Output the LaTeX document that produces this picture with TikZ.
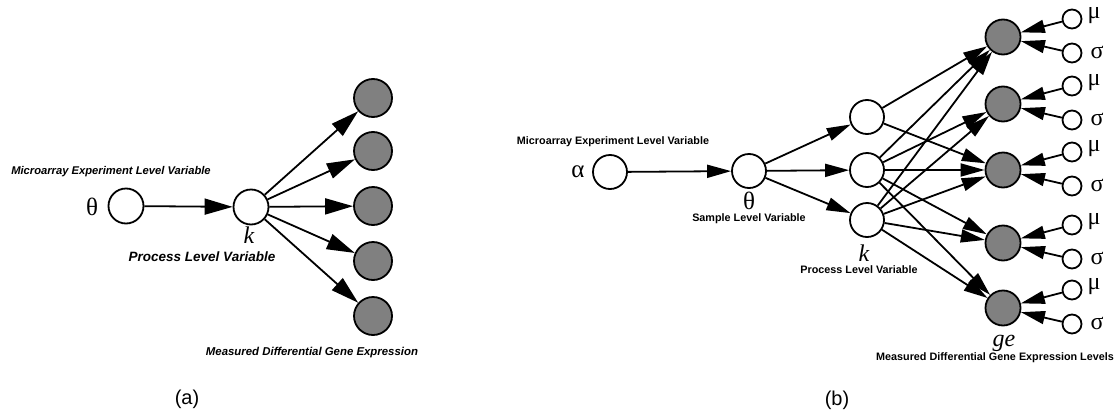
\documentclass[tikz,border=0pt]{standalone}
\usepackage{fontspec}
\setmainfont{Liberation Sans}
\newfontfamily\grk{Liberation Serif}
\usetikzlibrary{arrows.meta}
\definecolor{gcol}{RGB}{128,128,128}
\begin{document}
\begin{tikzpicture}[x=1pt,y=-1pt,
  every node/.style={inner sep=0pt},
  wca/.style={circle,draw,line width=1.8pt,fill=white,minimum size=35pt},
  wcb/.style={circle,draw,line width=1.8pt,fill=white,minimum size=34pt},
  gca/.style={circle,draw,line width=1.8pt,fill=gcol,minimum size=38pt},
  gcb/.style={circle,draw,line width=1.8pt,fill=gcol,minimum size=35pt},
  sc/.style={circle,draw,line width=1.8pt,fill=white,minimum size=19pt},
  arra/.style={line width=1.8pt,-{Triangle[length=28pt,width=16pt]}},
  arrb/.style={line width=1.8pt,-{Triangle[length=24pt,width=13pt]}},
  lbl/.style={font=\bfseries\fontsize{10.8}{11}\selectfont},
  ilbl/.style={font=\bfseries\itshape\fontsize{11.2}{12}\selectfont},
  ilblb/.style={font=\bfseries\itshape\fontsize{13.5}{14}\selectfont},
  ilblc/.style={font=\bfseries\itshape\fontsize{11.4}{12}\selectfont},
  gl/.style={font=\grk\fontsize{25}{25}\selectfont},
  gls/.style={font=\grk\fontsize{24}{24}\selectfont},
  gli/.style={font=\grk\itshape\fontsize{24}{24}\selectfont},
  capt/.style={font=\fontsize{20}{20}\selectfont}
]
\useasboundingbox (0,0) rectangle (1115,415);
% ---------- (a) ----------
\node[wca] (ath) at (126,206) {};
\node[wca] (ak) at (251,207) {};
\foreach \i/\y in {1/98,2/151,3/206,4/261,5/316}{
  \node[gca] (ag\i) at (373,\y) {};
  \draw[arra] (ak) -- (ag\i);
}
\draw[arra] (ath) -- (ak);
\node[gl] (athl) at (92,207) {θ};
\node[gli] (akl) at (249,235) {k};
\node[ilbl] (amic) at (111,172) {Microarray Experiment Level Variable};
\node[ilblb] (aproc) at (202,257) {Process Level Variable};
\node[ilblc] (ameas) at (312,353) {Measured Differential Gene Expression};
\node[capt] (acap) at (187,399) {(a)};
% ---------- (b) ----------
\node[wcb] (bal) at (610,172) {};
\node[wcb] (bth) at (749,171) {};
\node[wcb] (bk1) at (867,117) {};
\node[wcb] (bk2) at (867,170) {};
\node[wcb] (bk3) at (867,220) {};
\foreach \i/\y in {1/37,2/104,3/170,4/243,5/308}{
  \node[gcb] (bg\i) at (1003,\y) {};
  \node[sc] (bm\i) at (1072,\y-18) {};
  \node[sc] (bs\i) at (1072,\y+16) {};
  \node[gls] (bml\i) at (1094,\y-21) {μ};
  \node[gls] (bsl\i) at (1097,\y+15) {σ};
  \draw[arrb] (bm\i) -- (bg\i);
  \draw[arrb] (bs\i) -- (bg\i);
}
\draw[arrb] (bal) -- (bth);
\foreach \k in {1,2,3}{ \draw[arrb] (bth) -- (bk\k); }
\draw[arrb] (bk1) -- (bg1);
\draw[arrb] (bk1) -- (bg3);
\foreach \g in {1,2,3,4,5}{
  \draw[arrb] (bk2) -- (bg\g);
  \draw[arrb] (bk3) -- (bg\g);
}
\node[gl] (ball) at (578,172) {α};
\node[gl] (bthl) at (749,201) {θ};
\node[gli] (bkl) at (864,253) {k};
\node[gli] (bgel) at (1004,343) {ge};
\node[lbl] (bmic) at (613,142) {Microarray Experiment Level Variable};
\node[lbl] (bsam) at (749,219) {Sample Level Variable};
\node[lbl] (bproc) at (859,270) {Process Level Variable};
\node[lbl] (bmeas) at (995,358) {Measured Differential Gene Expression Levels};
\node[capt] (bcap) at (837,400) {(b)};
\end{tikzpicture}
\end{document}
